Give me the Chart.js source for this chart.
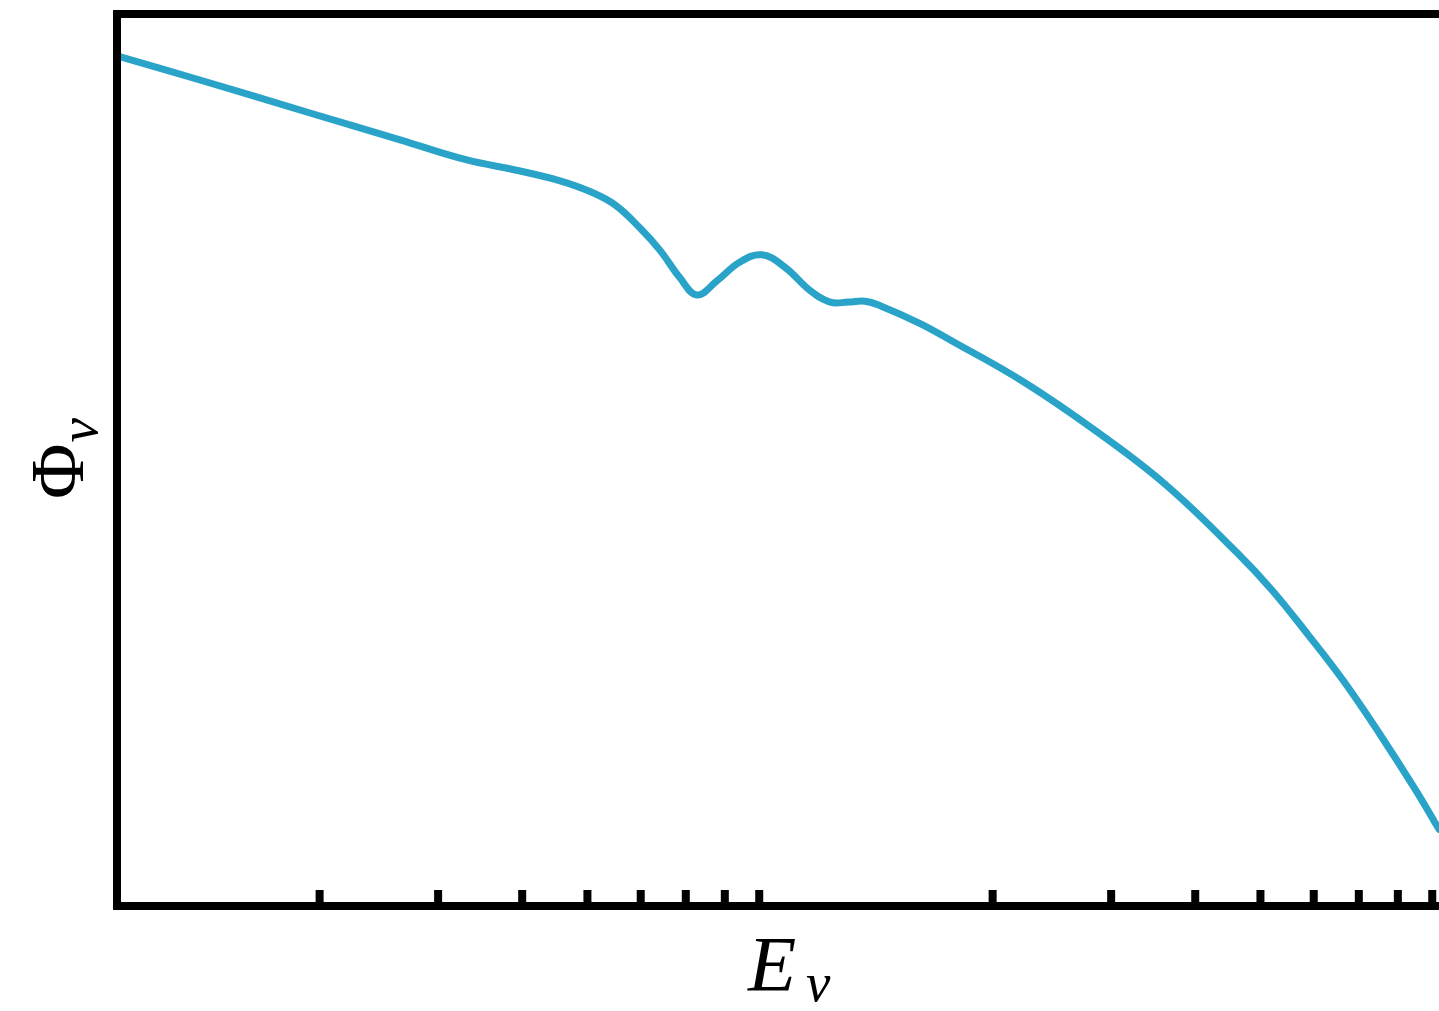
<!DOCTYPE html>
<html>
<head>
<meta charset="utf-8">
<script src="https://cdn.jsdelivr.net/npm/chart.js@4/dist/chart.umd.min.js"></script>
<style>
  html, body { margin: 0; padding: 0; background: #ffffff; overflow: hidden; }
  #wrap { width: 1439px; height: 1011px; }
</style>
</head>
<body>
<div id="wrap"><canvas id="c" width="1439" height="1011"></canvas></div>
<script>
// Neutrino energy (arbitrary units, log axis) and flux (arbitrary units)
const energy = [1.0, 1.328, 1.935, 2.634, 3.289, 3.971, 4.553, 5.045, 5.495, 5.985, 6.410, 6.866, 7.274, 7.790, 8.427, 9.087, 9.831, 10.71, 11.47, 12.20, 12.93, 13.61, 15.61, 17.35, 22.19, 28.29, 36.07, 46.16, 52.03, 58.86, 66.33, 75.03, 84.87, 92.1];
const flux   = [9.53, 9.26, 8.89, 8.59, 8.37, 8.24, 8.13, 8.01, 7.86, 7.60, 7.35, 7.04, 6.85, 7.01, 7.22, 7.30, 7.16, 6.90, 6.77, 6.77, 6.78, 6.73, 6.53, 6.34, 5.88, 5.34, 4.73, 3.96, 3.54, 3.04, 2.53, 1.94, 1.31, 0.86];
// Minor tick positions on the energy axis (no major ticks / labels shown)
const minorTicks = [2, 3, 4, 5, 6, 7, 8, 9, 20, 30, 40, 50, 60, 70, 80, 90];
const xLabel = ['E', 'ν'];
const yLabel = ['Φ', 'ν'];

const points = energy.map((e, i) => ({ x: e, y: flux[i] }));

const framePlugin = {
  id: 'frame',
  afterDraw(chart) {
    const ctx = chart.ctx;
    const a = chart.chartArea;
    const xs = chart.scales.x;
    const lw = 8;
    ctx.save();
    ctx.fillStyle = '#000000';
    // minor ticks pointing inward from bottom spine
    minorTicks.forEach(v => {
      const px = xs.getPixelForValue(v);
      if (px > a.left && px < a.right + 2) {
        ctx.fillRect(px - 4, a.bottom - 16, 8, 16);
      }
    });
    // spines: left, top, bottom (right spine lies outside the visible area)
    ctx.fillRect(a.left - lw / 2, a.top - lw / 2, lw, a.bottom - a.top + lw);
    ctx.fillRect(a.left - lw / 2, a.top - lw / 2, chart.width, lw);
    ctx.fillRect(a.left - lw / 2, a.bottom - lw / 2, chart.width, lw);

    // x label: E_nu
    ctx.fillStyle = '#000000';
    ctx.textBaseline = 'alphabetic';
    ctx.textAlign = 'left';
    ctx.font = 'italic 79px "Liberation Serif", "DejaVu Serif", serif';
    const ex = 748, ey = 990;
    ctx.fillText(xLabel[0], ex, ey);
    ctx.font = 'italic 55px "Liberation Serif", "DejaVu Serif", serif';
    ctx.fillText(xLabel[1], ex + 58, ey + 11);

    // y label: Phi_nu rotated
    ctx.save();
    ctx.translate(83, 499);
    ctx.rotate(-Math.PI / 2);
    ctx.font = '76px "Liberation Serif", "DejaVu Serif", serif';
    ctx.fillText(yLabel[0], 0, 0);
    const pw = ctx.measureText(yLabel[0]).width;
    ctx.font = 'italic 55px "Liberation Serif", "DejaVu Serif", serif';
    ctx.fillText(yLabel[1], pw + 1, 14);
    ctx.restore();
    ctx.restore();
  }
};

new Chart(document.getElementById('c'), {
  type: 'line',
  data: {
    datasets: [{
      data: points,
      borderColor: '#2aa3c8',
      borderWidth: 7,
      pointRadius: 0,
      fill: false,
      tension: 0.4,
      borderCapStyle: 'round',
      borderJoinStyle: 'round'
    }]
  },
  options: {
    responsive: false,
    animation: false,
    events: [],
    layout: { padding: { left: 117, top: 14, right: 0, bottom: 105 } },
    plugins: { legend: { display: false }, tooltip: { enabled: false } },
    scales: {
      x: { type: 'logarithmic', min: 1, max: 92.1, display: false },
      y: { type: 'linear', min: 0, max: 10, display: false }
    }
  },
  plugins: [framePlugin]
});
</script>
</body>
</html>
